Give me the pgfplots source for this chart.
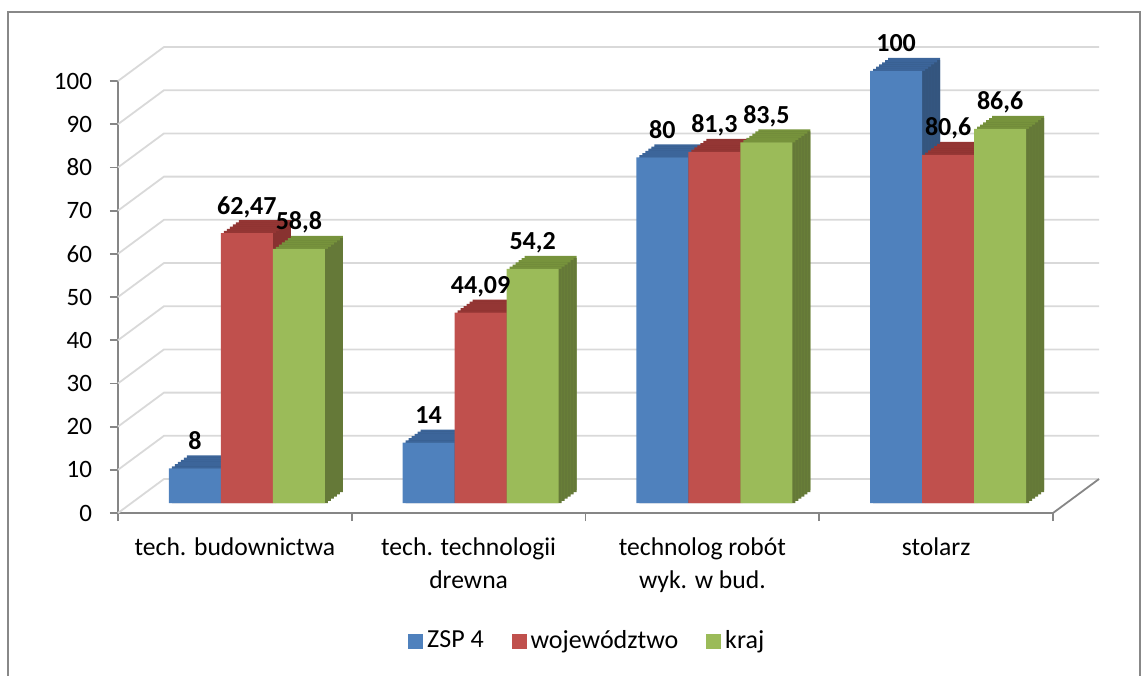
\documentclass[border=0pt]{standalone}
\usepackage{fontspec}
\setmainfont{Carlito}
\usepackage{pgfplots}
\pgfplotsset{compat=1.18}
\definecolor{bluefront}{HTML}{4F81BD}
\definecolor{bluetop}{HTML}{3C659A}
\definecolor{blueside}{HTML}{34557E}
\definecolor{redfront}{HTML}{C0504D}
\definecolor{redtop}{HTML}{943634}
\definecolor{redside}{HTML}{883230}
\definecolor{greenfront}{HTML}{9BBB59}
\definecolor{greentop}{HTML}{77933C}
\definecolor{greenside}{HTML}{657938}
\definecolor{axisgray}{HTML}{868686}
\definecolor{gridgray}{HTML}{D9D9D9}
\definecolor{framegray}{HTML}{888888}
\pgfplotstableread{
x zsp  zspl woj   wojl   kraj krajl
1 8    8    62.47 62,47  58.8 58,8
2 14   14   44.09 44,09  54.2 54,2
3 80   80   81.3  81,3   83.5 83,5
4 100  100  80.6  80,6   86.6 86,6
}\data
\begin{document}
\begin{tikzpicture}[x=1pt,y=1pt]
\path[use as bounding box] (-59,-81) rectangle (513,256.5);
\draw[framegray, line width=1pt] (-55,-95) -- (-55,250.5) -- (511,250.5) -- (511,-95);
\begin{axis}[
  at={(0,0)}, anchor=south west,
  scale only axis, width=467.5pt, height=216pt,
  xmin=0.5, xmax=4.5, ymin=0, ymax=100,
  clip=false,
  separate axis lines,
  axis x line=bottom, axis y line=left,
  axis line style={draw=axisgray, line width=0.9pt, -},
  tick align=outside, major tick length=4pt,
  tick style={draw=axisgray, line width=0.9pt},
  ytick={0,10,...,100},
  /pgf/number format/assume math mode=true,
  yticklabel style={font=\fontsize{12.5}{15}\selectfont, xshift=-5.5pt},
  xtick={0.5,1.5,2.5,3.5,4.5},
  x tick label as interval,
  xticklabels={tech. budownictwa, {tech. technologii\\drewna}, {technolog robót\\wyk. w bud.}, stolarz},
  xticklabel style={font=\fontsize{12.8}{16.5}\selectfont, align=center, anchor=north, yshift=-5pt},
  legend style={at={(0.503,0)}, anchor=center, yshift=-64pt, draw=none, fill=none,
    font=\fontsize{13}{15}\selectfont, legend columns=-1,
    /tikz/every even column/.append style={column sep=12pt}},
  legend cell align=left,
  ybar, bar width=26pt,
  nodes near coords style={font=\bfseries\fontsize{13}{15}\selectfont, anchor=base},
]
\pgfplotsinvokeforeach{0,10,...,100}{
  \draw[gridgray, line width=0.9pt] (axis cs:0.5,#1) -- ([shift={(23pt,17pt)}]axis cs:0.5,#1) -- ([shift={(23pt,17pt)}]axis cs:4.5,#1);
}
\draw[axisgray, line width=0.9pt] (axis cs:4.5,0) -- ([shift={(23pt,17pt)}]axis cs:4.5,0);
% depth slices of the bars (back to front): top face colour, then side face colour
\pgfplotsinvokeforeach{6,5,4,3,2,1}{
  \addplot[forget plot, fill=bluetop, draw=none, bar shift={-20pt+#1*1.5pt}, yshift={5pt+#1*1.0833pt}] table[x=x,y=zsp] {\data};
  \addplot[forget plot, fill=blueside, draw=none, bar shift={-20pt+#1*1.5pt}, yshift={5pt+(#1-1)*1.0833pt}] table[x=x,y=zsp] {\data};
  \addplot[forget plot, fill=redtop, draw=none, bar shift={6pt+#1*1.5pt}, yshift={5pt+#1*1.0833pt}] table[x=x,y=woj] {\data};
  \addplot[forget plot, fill=redside, draw=none, bar shift={6pt+#1*1.5pt}, yshift={5pt+(#1-1)*1.0833pt}] table[x=x,y=woj] {\data};
  \addplot[forget plot, fill=greentop, draw=none, bar shift={32pt+#1*1.5pt}, yshift={5pt+#1*1.0833pt}] table[x=x,y=kraj] {\data};
  \addplot[forget plot, fill=greenside, draw=none, bar shift={32pt+#1*1.5pt}, yshift={5pt+(#1-1)*1.0833pt}] table[x=x,y=kraj] {\data};
}
% front faces
\addplot[forget plot, fill=bluefront, draw=none, bar shift=-20pt, yshift=5pt,
  point meta=explicit symbolic, nodes near coords,
  every node near coord/.append style={yshift=9.5pt}] table[x=x,y=zsp,meta=zspl] {\data};
\addplot[forget plot, fill=redfront, draw=none, bar shift=6pt, yshift=5pt,
  point meta=explicit symbolic, nodes near coords,
  every node near coord/.append style={yshift=9.5pt}] table[x=x,y=woj,meta=wojl] {\data};
\addplot[forget plot, fill=greenfront, draw=none, bar shift=32pt, yshift=5pt,
  point meta=explicit symbolic, nodes near coords,
  every node near coord/.append style={yshift=9.5pt}] table[x=x,y=kraj,meta=krajl] {\data};
\addlegendimage{legend image code/.code={\fill[bluefront] (0pt,-3.5pt) rectangle (7pt,3.5pt);}}
\addlegendentry{ZSP 4}
\addlegendimage{legend image code/.code={\fill[redfront] (0pt,-3.5pt) rectangle (7pt,3.5pt);}}
\addlegendentry{województwo}
\addlegendimage{legend image code/.code={\fill[greenfront] (0pt,-3.5pt) rectangle (7pt,3.5pt);}}
\addlegendentry{kraj}
\end{axis}
\end{tikzpicture}
\end{document}
